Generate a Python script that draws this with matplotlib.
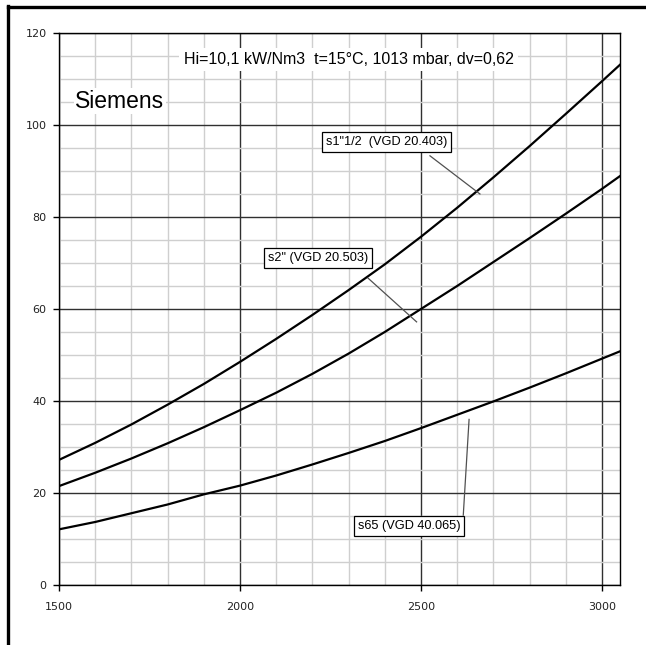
import numpy as np
import matplotlib
matplotlib.use("Agg")
import matplotlib.pyplot as plt
from matplotlib.ticker import MultipleLocator
from matplotlib.lines import Line2D

# flow (x) and curves
flow = [1500, 1600, 1700, 1800, 1900, 2000, 2100, 2200, 2300, 2400,
        2500, 2600, 2700, 2800, 2900, 3000, 3050]
s1_12 = [27.2, 30.9, 34.9, 39.2, 43.7, 48.5, 53.5, 58.7, 64.1, 69.7,
         75.7, 82.0, 88.6, 95.4, 102.4, 109.5, 113.1]
s2 = [21.5, 24.4, 27.5, 30.8, 34.3, 38.0, 41.8, 45.9, 50.3, 55.0,
      60.0, 65.0, 70.2, 75.4, 80.7, 86.1, 88.9]
s65 = [12.1, 13.7, 15.6, 17.5, 19.7, 21.6, 23.8, 26.2, 28.7, 31.3,
       34.1, 37.0, 39.9, 42.9, 46.0, 49.2, 50.8]

labels = ['s1"1/2  (VGD 20.403)', 's2" (VGD 20.503)', 's65 (VGD 40.065)']
label_pos = [(2405, 96.3), (2215, 71.0), (2467, 12.8)]
# leader lines: (from, to)
leaders = [((2525, 93.3), (2663, 85.0)),
           ((2354, 66.7), (2488, 57.2)),
           ((2617, 15.2), (2633, 36.0))]

title = "Hi=10,1 kW/Nm3  t=15°C, 1013 mbar, dv=0,62"
font = ['Liberation Sans', 'DejaVu Sans']

fig = plt.figure(figsize=(6.46, 6.45), dpi=100)
ax = fig.add_axes([59/646, 60/645, (620-59)/646, (585-33)/645])

for y in [s1_12, s2, s65]:
    ax.plot(flow, y, color='black', lw=1.6, zorder=3)

ax.set_xlim(1500, 3050)
ax.set_ylim(0, 120)
ax.xaxis.set_major_locator(MultipleLocator(500))
ax.xaxis.set_minor_locator(MultipleLocator(100))
ax.yaxis.set_major_locator(MultipleLocator(20))
ax.yaxis.set_minor_locator(MultipleLocator(5))
ax.grid(which='minor', color='#cfcfcf', lw=1)
ax.grid(which='major', color='#303030', lw=1)
ax.set_axisbelow(True)
ax.tick_params(which='minor', length=0)
ax.tick_params(which='major', length=4, width=1, labelsize=8, labelcolor='#222222')
ax.tick_params(axis='x', pad=8)
ax.tick_params(axis='y', pad=5)
for sp in ax.spines.values():
    sp.set_color('black')
    sp.set_linewidth(1)

ax.text(2300, 114.2, title, ha='center', va='center', fontsize=11.5,
        family=font, bbox=dict(facecolor='white', edgecolor='none', pad=3), zorder=4)
ax.text(1545, 105.2, "Siemens", ha='left', va='center', fontsize=16.5,
        family=font, bbox=dict(facecolor='white', edgecolor='none', pad=1), zorder=4)

for (p0, p1) in leaders:
    ax.plot([p0[0], p1[0]], [p0[1], p1[1]], color='#505050', lw=0.9, zorder=4)
for txt, (lx, ly) in zip(labels, label_pos):
    ax.text(lx, ly, txt, ha='center', va='center', fontsize=9.2, family=font,
            bbox=dict(boxstyle='square,pad=0.32', facecolor='white',
                      edgecolor='black', lw=0.9), zorder=5)

# frame lines of the cropped picture
fig.add_artist(Line2D([7.5/646, 7.5/646], [0, 1 - 6/645], color='black', lw=2.4))
fig.add_artist(Line2D([7.5/646, 1], [1 - 6.5/645, 1 - 6.5/645], color='black', lw=2.4))

fig.savefig("out.png", dpi=100)
